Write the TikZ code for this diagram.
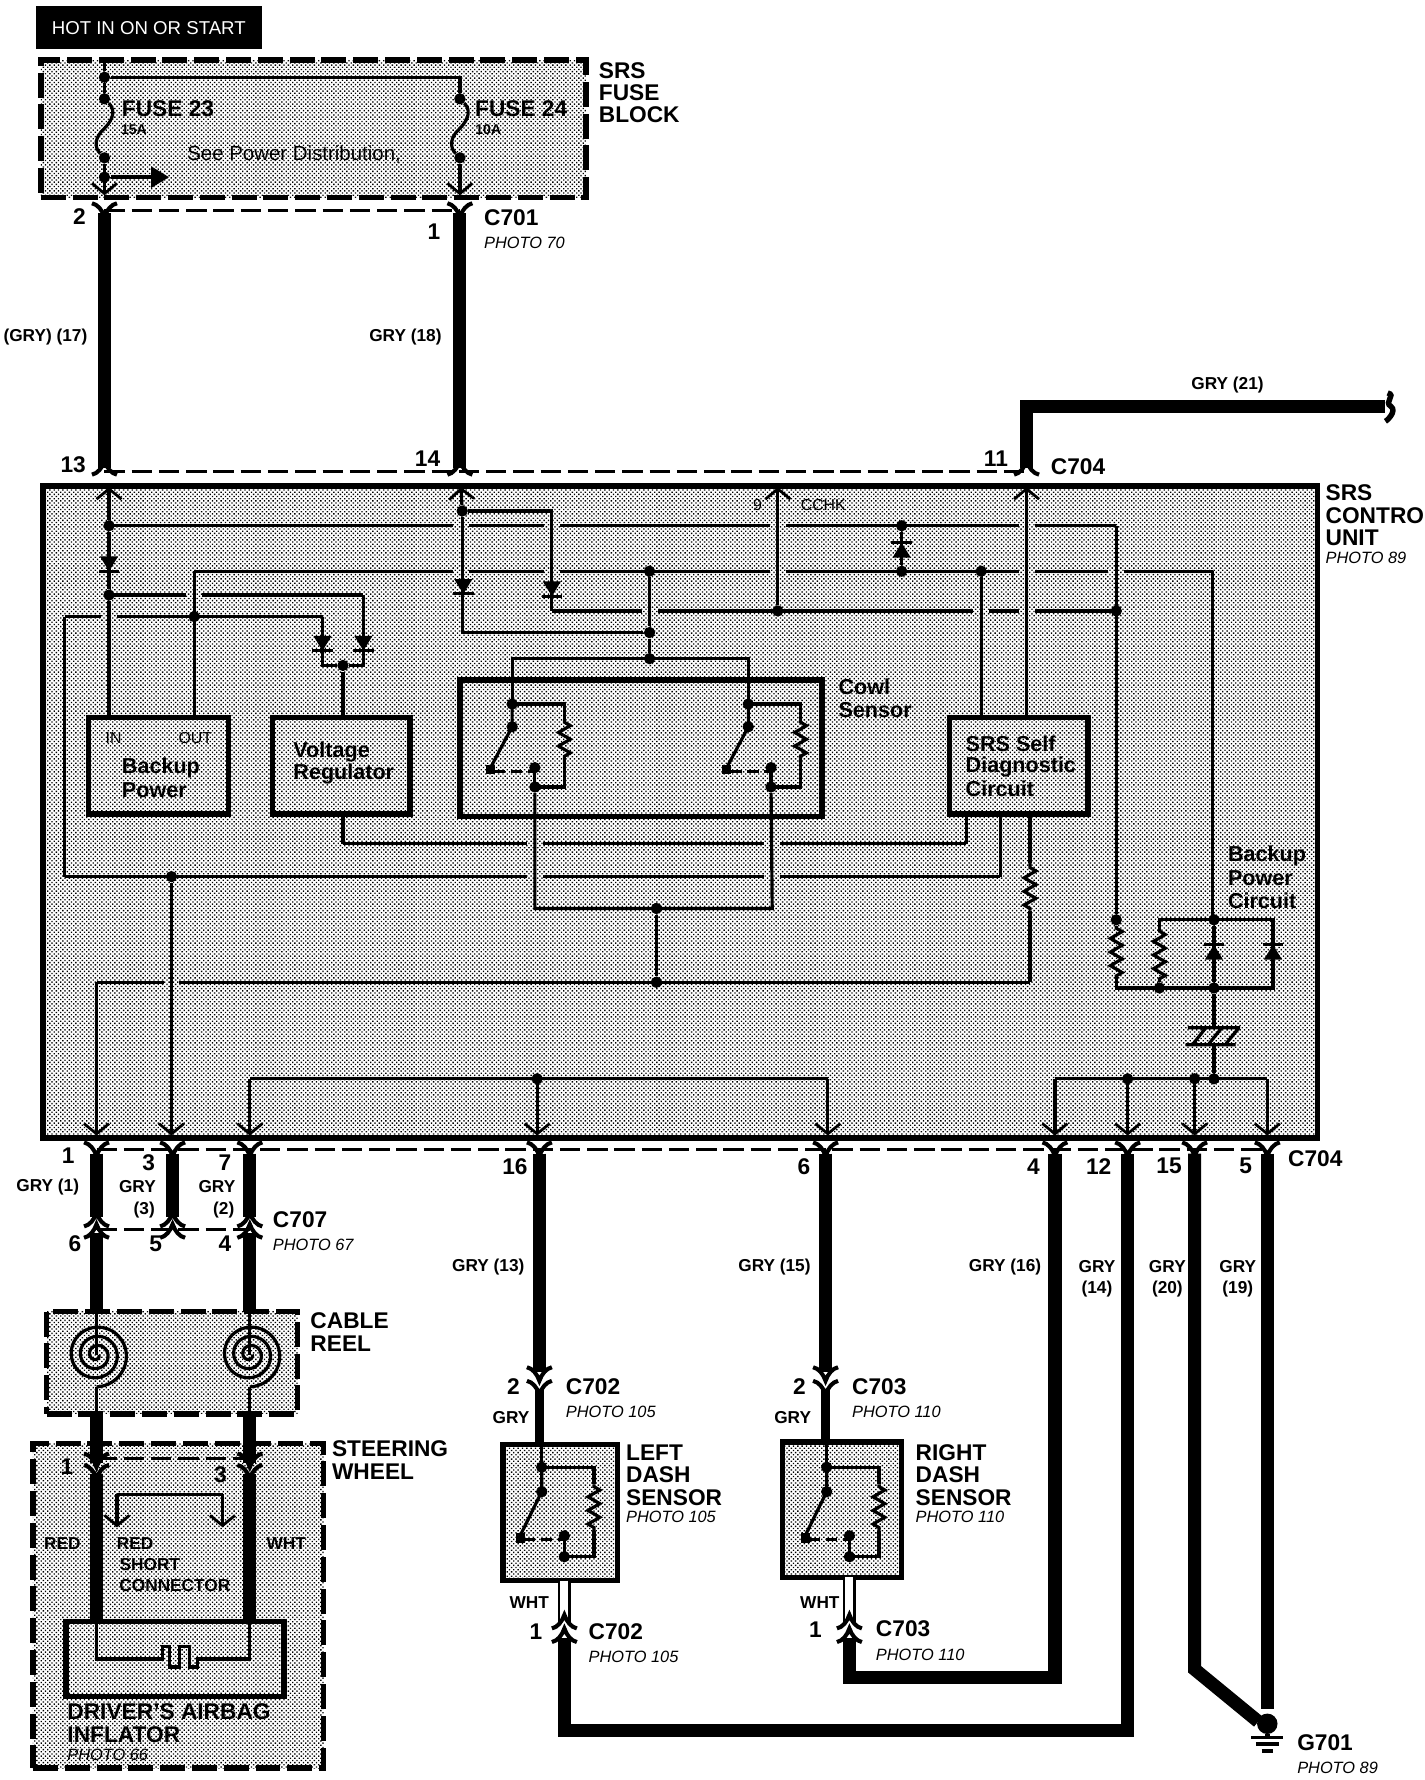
\documentclass[tikz,border=0pt]{standalone}
\usepackage{fontspec}
\setmainfont{Liberation Sans}
\usetikzlibrary{arrows.meta,decorations.pathmorphing,fit,patterns.meta}
\tikzset{
	>={Straight Barb[length=4.5pt,width=11pt,line width=1.2pt]},
	hatchfill/.style={preaction={fill=white},pattern={Dots[angle=45,distance=1.35pt,radius=0.42pt]}},
	wirethin/.style={line width=1.4pt},
	wirefat/.style={line width=5.8pt},
	wiremid/.style={line width=4pt},
	wirewht/.style={double=white,double distance=3.5pt,line width=1pt},
	resist/.style={line width=1.4pt,decorate,decoration={zigzag,amplitude=2.6pt,segment length=6pt,pre length=1pt,post length=1pt}},
	connline/.style={line width=1.3pt,dash pattern=on 9pt off 3pt},
	dashbox/.style={draw,hatchfill,line width=2.4pt,dash pattern=on 11pt off 3pt,inner sep=0pt},
	solidbox/.style={draw,hatchfill,line width=2.4pt,inner sep=0pt},
	jdot/.style={circle,fill=black,inner sep=0pt,minimum size=5pt},
	big/.style={font=\fontsize{10}{10}\selectfont\bfseries,anchor=west,align=left,inner sep=0pt},
	med/.style={font=\fontsize{9.5}{10}\selectfont\bfseries,anchor=west,align=left,inner sep=0pt},
	wlabel/.style={font=\fontsize{7.6}{10}\selectfont\bfseries,inner sep=0pt,align=center},
	photo/.style={font=\fontsize{7.2}{9}\selectfont\itshape,anchor=west,inner sep=0pt},
	pinr/.style={font=\fontsize{10}{10}\selectfont\bfseries,anchor=east,inner sep=0pt},
	plain/.style={font=\fontsize{7}{9}\selectfont,inner sep=0pt},
	pics/ypin/.style={code={
		\draw[line width=1.8pt] (-11,-6) .. controls (-6,-5) and (-2,0) .. (0,6) .. controls (2,0) and (6,-5) .. (11,-6);
	}},
	pics/diode/.style={code={
		\fill (-8,-7) -- (8,-7) -- (0,6) -- cycle;
		\draw[line width=1.4pt] (-9,6) -- (9,6);
	}},
	pics/reel/.style={code={
		\draw[line width=1.4pt] plot[variable=\t,domain=0:1170,samples=160,smooth] ({(2+\t*0.0225)*cos(\t)},{(2+\t*0.0225)*sin(\t)});
	}},
	pics/relay/.style={code={
		\draw[wirethin] (0,0) -- (46,0) -- (46,14);
		\draw[resist] (46,14) -- (46,52);
		\draw[wirethin] (46,52) -- (46,73) -- (20,73);
		\draw[wirethin] (0,0) -- (0,20) -- (-19,56);
		\draw[wirethin] (20,56) -- (20,73);
		\draw[line width=1.3pt,dash pattern=on 5pt off 2.5pt] (-16,59) -- (20,59);
		\fill (-23,54) rectangle (-15,62);
		\node[jdot] (#1a) at (0,0) {};
		\node[jdot] (#1b) at (0,20) {};
		\node[jdot] (#1c) at (20,56) {};
		\node[jdot] (#1d) at (20,73) {};
	}},
}

\begin{document}
\begin{tikzpicture}[x=0.5pt,y=-0.5pt]
\useasboundingbox (0,0) rectangle (1254,1567.5);

% boxes
\node[fill=black,fit={(32,5) (231,43)},inner sep=0pt] (hotbox) {};
\node[text=white,font=\fontsize{8.2}{9}\selectfont,inner sep=0pt] (hottext) at (131,25) {HOT IN ON OR START};
\node[dashbox,fit={(36,53) (516,174)}] (fuseblock) {};
\node[solidbox,fit={(38,428) (1160,1002)}] (srsunit) {};
\node[dashbox,fit={(41,1155) (262,1245)}] (cablereel) {};
\node[dashbox,fit={(29,1271) (285,1557)}] (wheel) {};
\node[solidbox,fit={(58,1428) (250,1494)}] (inflator) {};
\node[solidbox,fit={(443,1272) (544,1392)}] (leftdash) {};
\node[solidbox,fit={(689,1270) (794,1389)}] (rightdash) {};

% fuse block
\foreach \n/\x/\y in {f1/92/68,f2/92/87,f3/92/139,f4/92/156,f5/405/87,f6/405/139}
	\node[jdot] (\n) at (\x,\y) {};
\coordinate (f0) at (92,53);
\coordinate (f7) at (405,68);
\coordinate (f8) at (149,156);
\coordinate (tip23) at (92,172);
\coordinate (tip24) at (405,172);
\draw[wirethin] (f0) -- (f1) -- (f7) -- (f5);
\draw[wirethin] (f1) -- (f2);
\draw[wirethin] (f2) .. controls (101,96) and (101,104) .. (92,113) .. controls (83,121) and (83,130) .. (f3);
\draw[wirethin] (f5) .. controls (414,96) and (414,104) .. (405,113) .. controls (396,121) and (396,130) .. (f6);
\draw[wirethin,->] (f3) -- (tip23);
\draw[wirethin,->] (f6) -- (tip24);
\draw[line width=2pt,-{Triangle[length=8pt,width=9pt]}] (f4) -- (f8);

% thick wires up top
\foreach \n/\x/\y in {c2/92/188,c1/405/188,c13/92/412,c14/405/412,c11/904/412}
	\coordinate (\n) at (\x,\y);
\coordinate (bend21) at (904,358);
\coordinate (end21) at (1220,358);
\draw[wirefat] (c2) -- (c13);
\draw[wirefat] (c1) -- (c14);
\draw[wirefat,line join=miter] (c11) -- (bend21) -- (end21);
\draw[line width=2.4pt] (1222,346) .. controls (1230,348) and (1218,354) .. (1225,358) .. controls (1230,362) and (1222,370) .. (1220,371);
\draw[connline] (c2 |- 0,185) -- (c1 |- 0,185);
\draw[connline] (c13 |- 0,415) -- (c11 |- 0,415);
\foreach \x in {92,405}
	\pic at (\x,185) {ypin};
\foreach \x in {92,405,904}
	\pic[rotate=180] at (\x,412) {ypin};

% horizontal lines in the control unit
\coordinate (h1r) at (983,463);
\coordinate (h2l) at (171,503);
\coordinate (h2r) at (1068,503);
\coordinate (h3l) at (486,538);
\coordinate (h4l) at (96,524);
\coordinate (h4r) at (320,524);
\coordinate (h5l) at (57,543);
\coordinate (h5r) at (284,543);
\coordinate (h6l) at (57,772);
\coordinate (h6r) at (881,772);
\coordinate (h7l) at (302,743);
\coordinate (h7r) at (851,743);
\coordinate (h8l) at (85,865);
\coordinate (h8r) at (907,865);
\draw[wirethin] (96,463) -- (h1r);
\draw[wirethin] (h2l) -- (h2r);
\draw[wirethin] (h3l) -- (983,538);
\draw[wirethin] (h4l) -- (h4r);
\draw[wirethin] (h5l) -- (h5r);
\draw[wirethin] (h6l) -- (h6r);
\draw[wirethin] (h7l) -- (h7r);
\draw[wirethin] (h8l) -- (h8r);

% gaps where wires cross
\foreach \x/\y in {406/463,486/463,685/463,904/463,406/503,486/503,685/503,904/503,983/503,572/538,864/538,904/538,171/524,96/543,471/743,680/743,471/772,680/772,151/865}
	\path[hatchfill] (\x-7,\y-3) rectangle (\x+7,\y+3);

% junctions in the control unit
\foreach \n/\x/\y in {j1/96/463,j2/96/524,j3/171/543,j4/302/586,j5/407/450,j6/572/503,j7/572/557,j8/572/580,j9/685/538,j10/794/463,j11/794/503,j12/864/503,j13/983/538,j14/151/772,j15/578/800,j16/578/865,j17/473/950,j18/983/810,j19/1069/810,j20/1021/870,j21/1069/870,j22/993/950,j23/1052/950,j24/1069/950}
	\node[jdot] (\n) at (\x,\y) {};

% vertical lines
\node[solidbox,fit={(78,632) (201,717)}] (backup) {};
\node[solidbox,fit={(240,632) (361,717)}] (voltreg) {};
\node[solidbox,fit={(405,599) (724,719)}] (cowl) {};
\node[solidbox,fit={(836,632) (958,717)}] (selfdiag) {};
\foreach \x in {96,406,685,904}
	\coordinate (top\x) at (\x,429);
\draw[wirethin,<-] (top96) -- (j1);
\draw[wirethin] (j1) -- (j2) -- (j2 |- backup.north);
\pic at (96,497) {diode};
\draw[wirethin] (h2l) -- (h2l |- backup.north);
\draw[wirethin] (h4r) -- (320,586) -- (j4);
\draw[wirethin] (h5r) -- (284,586) -- (j4) -- (j4 |- voltreg.north);
\pic at (284,567) {diode};
\pic at (320,567) {diode};
\draw[wirethin,<-] (top406) -- (j5);
\draw[wirethin] (j5) -- (407,557) -- (j7);
\pic at (408,517) {diode};
\draw[wirethin] (j5) -- (486,450) -- (h3l);
\pic at (486,519) {diode};
\draw[wirethin] (j6) -- (j7) -- (j8);
\draw[wirethin] (451,620) -- (451,580) -- (659,580) -- (659,620);
\draw[wirethin,<-] (top685) -- (j9);
\draw[wirethin] (j10) -- (j11);
\pic[rotate=180] at (794,484) {diode};
\draw[wirethin] (j12) -- (j12 |- selfdiag.north);
\draw[wirethin,<-] (top904) -- (top904 |- selfdiag.north);
\draw[wirethin] (h1r) -- (j18);
\draw[wirethin] (h2r) -- (1068,810);

% cowl sensor
\pic at (451,620) {relay=cl};
\pic at (659,620) {relay=cr};
\draw[wirethin] (cld) -- (471,800) -- (680,800) -- (crd);
\draw[wirethin] (j15) -- (j16);
\draw[wirethin] (h7l) -- (h7l |- voltreg.south);
\draw[wirethin] (h7r) -- (h7r |- selfdiag.south);
\draw[wirethin] (h6l) -- (h5l);
\draw[wirethin] (h6r) -- (h6r |- selfdiag.south);
\draw[wirethin] (h8r) -- (907,802);
\draw[resist] (907,802) -- (907,760);
\draw[wirethin] (907,760) -- (907,717);

% backup power circuit
\draw[resist] (j18) -- (983,862);
\draw[wirethin] (983,862) -- (983,870) -- (1121,870) -- (1121,810) -- (1021,810) -- (1021,818);
\draw[resist] (1021,818) -- (j20);
\draw[wirethin] (j19) -- (j21) -- (1069,905);
\pic[rotate=180] at (1069,838) {diode};
\pic[rotate=180] at (1121,838) {diode};
\draw[line width=1.4pt] (1046,905) -- (1092,905) (1044,920) -- (1088,920) (1062,905) -- (1050,920) (1076,905) -- (1064,920) (1091,905) -- (1079,920);
\draw[wirethin] (1069,920) -- (j24);
\draw[wirethin] (929,950) -- (1116,950);
\foreach \x in {929,993,1052,1116}
	\draw[wirethin,->] (\x,950) -- (\x,1000);

% lower part of the control unit
\draw[wirethin,->] (h8l) -- (85,1000);
\draw[wirethin,->] (j14) -- (151,1000);
\draw[wirethin] (220,950) -- (729,950);
\foreach \x in {220,473,729}
	\draw[wirethin,->] (\x,950) -- (\x,1000);

% wires below the control unit
\draw[connline] (85,1012) -- (1116,1012);
\foreach \x in {85,152,220,475,727,929,993,1052,1116}
	\pic at (\x,1012) {ypin};
\coordinate (d1) at (85,1016);
\coordinate (d1b) at (85,1072);
\coordinate (d3) at (152,1016);
\coordinate (d3b) at (152,1072);
\coordinate (d7) at (220,1016);
\coordinate (d7b) at (220,1072);
\draw[wirefat] (d1) -- (d1b);
\draw[wirefat] (d3) -- (d3b);
\draw[wirefat] (d7) -- (d7b);
\draw[connline] (85,1083) -- (220,1083);
\foreach \x in {85,152,220} {
	\pic[yscale=-1] at (\x,1074) {ypin};
	\pic[yscale=-1] at (\x,1084) {ypin};
}
\draw[wirefat] (85,1086) -- (85,1155);
\draw[wirefat] (220,1086) -- (220,1155);

% cable reel
\pic at (85,1193) {reel};
\pic at (220,1193) {reel};
\draw[wirethin] (85,1155) -- (85,1193);
\draw[wirethin] (220,1155) -- (220,1193);
\draw[wirethin] (85,1221) -- (85,1245);
\draw[wirethin] (220,1221) -- (220,1245);
\draw[wirefat] (85,1245) -- (85,1288);
\draw[wirefat] (220,1245) -- (220,1288);
\pic at (85,1286) {ypin};
\pic at (220,1286) {ypin};
\draw[connline] (85,1284) -- (220,1284);
\pic at (85,1296) {ypin};
\pic at (220,1296) {ypin};

% steering wheel
\draw[wirefat] (85,1298) -- (85,1428);
\draw[wirefat] (220,1298) -- (220,1428);
\draw[wirethin] (85,1428) -- (85,1461) -- (143,1461) -- (143,1450) -- (149,1450) -- (149,1468) -- (158,1468) -- (158,1450) -- (167,1450) -- (167,1468) -- (174,1468) -- (174,1461) -- (220,1461) -- (220,1428);
\coordinate (short1) at (103,1316);
\coordinate (short2) at (196,1316);
\draw[wirethin,->] (short1) -- (103,1345);
\draw[wirethin,->] (short2) -- (196,1345);
\draw[wirethin] (short1) -- (short2);

% left and right dash sensors
\draw[wirefat] (475,1016) -- (475,1208);
\draw[wirefat] (727,1016) -- (727,1208);
\pic at (475,1210) {ypin};
\pic at (475,1222) {ypin};
\pic at (727,1210) {ypin};
\pic at (727,1222) {ypin};
\draw[wiremid] (475,1224) -- (475,1272);
\draw[wiremid] (727,1224) -- (727,1270);
\draw[wirethin] (477,1272) -- (477,1292);
\draw[wirethin] (728,1270) -- (728,1292);
\pic[yscale=1.08] at (477,1292) {relay=ll};
\pic[yscale=1.08] at (728,1292) {relay=rr};
\draw[wirewht] (497,1392) -- (497,1428);
\draw[wirewht] (748,1389) -- (748,1428);
\foreach \x in {497,748} {
	\pic[rotate=180] at (\x,1428) {ypin};
	\pic[rotate=180] at (\x,1440) {ypin};
}
\draw[wirefat,line join=miter] (497,1442) -- (497,1524) -- (993,1524) -- (993,1016);
\draw[wirefat,line join=miter] (748,1442) -- (748,1477) -- (929,1477) -- (929,1016);
\draw[wirefat,line join=miter] (1052,1016) -- (1052,1470) -- (1108,1516);
\draw[wirefat] (1116,1016) -- (1116,1505);

% ground
\node[circle,fill=black,inner sep=0pt,minimum width=9pt,minimum height=9pt] (gndball) at (1116,1518) {};
\coordinate (gnd) at (1116,1530);
\draw[line width=2pt] (gndball) -- (gnd);
\draw[line width=1.6pt] (1102,1530) -- (1130,1530) (1106,1536) -- (1126,1536) (1111,1542) -- (1121,1542);

% labels
\foreach \x/\y/\t [count=\n] in {527/62/SRS,527/82/FUSE,527/101/BLOCK,107/96/FUSE 23,418/96/FUSE 24,426/192/C701,925/411/C704,1167/434/SRS,1167/454/CONTROL,1167/474/UNIT,1134/1020/C704,240/1074/C707,273/1163/CABLE,273/1183/REEL,292/1276/STEERING,292/1296/WHEEL,59/1507/{DRIVER'S AIRBAG},59/1528/INFLATOR,498/1221/C702,750/1221/C703,518/1437/C702,771/1434/C703,551/1279/LEFT,551/1299/DASH,551/1319/SENSOR,806/1279/RIGHT,806/1299/DASH,806/1319/SENSOR,1142/1535/G701}
	\node[big] (name\n) at (\x,\y) {\t};
\foreach \x/\y/\t [count=\n] in {738/605/Cowl,738/625/Sensor,107/676/Backup,107/696/Power,258/662/Voltage,258/682/Regulator,850/655/SRS Self,850/675/Diagnostic,850/695/Circuit,1081/754/Backup,1081/773/Power,1081/793/Circuit}
	\node[med] (inner\n) at (\x,\y) {\t};
\foreach \x/\y/\t [count=\n] in {426/214/PHOTO 70,1167/491/PHOTO 89,240/1096/PHOTO 67,59/1545/PHOTO 66,498/1243/PHOTO 105,750/1243/PHOTO 110,551/1336/PHOTO 105,806/1336/PHOTO 110,518/1459/PHOTO 105,771/1457/PHOTO 110,1142/1557/PHOTO 89}
	\node[photo] (photo\n) at (\x,\y) {\t};
\foreach \x/\y/\t [count=\n] in {76/191/2,388/204/1,76/409/13,388/404/14,888/404/11,66/1018/1,137/1024/3,204/1024/7,72/1095/6,143/1095/5,204/1095/4,465/1027/16,714/1027/6,916/1027/4,979/1027/12,1041/1027/15,1103/1027/5,458/1221/2,710/1221/2,478/1437/1,724/1435/1,65/1292/1,200/1299/3}
	\node[pinr] (pin\n) at (\x,\y) {\t};
\foreach \x/\y/\t [count=\n] in {40/297/(GRY) (17),357/297/GRY (18),1081/339/GRY (21),42/1045/GRY (1),121/1045/GRY,127/1066/(3),191/1045/GRY,197/1066/(2),430/1116/GRY (13),682/1116/GRY (15),885/1116/GRY (16),966/1115/GRY,966/1135/(14),1028/1115/GRY,1028/1135/(20),1090/1115/GRY,1090/1135/(19),450/1248/GRY,698/1248/GRY,466/1411/WHT,722/1411/WHT,55/1359/RED,252/1359/WHT,119/1359/RED,132/1378/SHORT,154/1396/CONNECTOR}
	\node[wlabel] (wire\n) at (\x,\y) {\t};
\foreach \x/\y/\t [count=\n] in {118/114/15A,430/114/10A}
	\node[wlabel,font=\fontsize{6.2}{8}\selectfont\bfseries] (amps\n) at (\x,\y) {\t};
\node[font=\fontsize{9}{10}\selectfont,inner sep=0pt] (seepower) at (259,136) {See Power Distribution,};
\foreach \x/\y/\t [count=\n] in {100/650/IN,172/650/OUT,667/445/9,725/445/CCHK}
	\node[plain] (small\n) at (\x,\y) {\t};
\end{tikzpicture}
\end{document}
